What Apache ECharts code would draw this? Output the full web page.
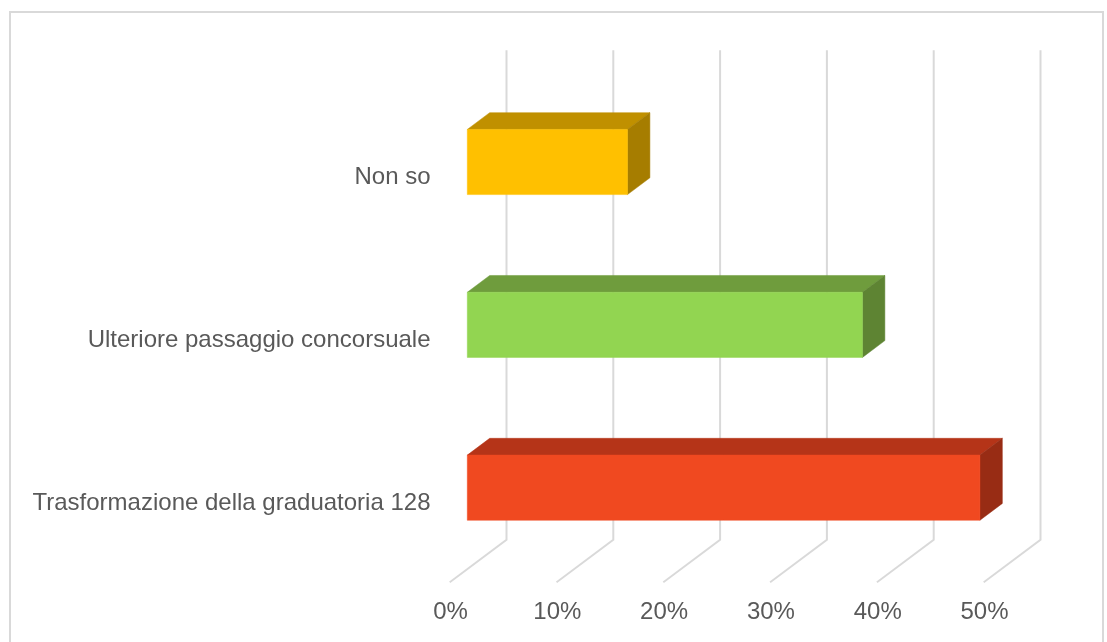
<!DOCTYPE html>
<html>
<head>
<meta charset="utf-8">
<style>
  html, body { margin: 0; padding: 0; background: #fff; }
  #chart { width: 1107px; height: 642px; }
</style>
<script src="https://cdn.jsdelivr.net/npm/echarts@6/dist/echarts.min.js"></script>
</head>
<body>
<div id="chart"></div>
<script>
// Answers, listed bottom to top as the category axis runs
const categories = ['Trasformazione della graduatoria 128', 'Ulteriore passaggio concorsuale', 'Non so'];
const percentages = [48, 37, 15];
const ticks = [0, 10, 20, 30, 40, 50];

// Front, top and side shades of each box
const faceColors = [
  ['#F04920', '#B53418', '#982C14'],
  ['#92D551', '#6F9C3D', '#5E8433'],
  ['#FFC000', '#C09000', '#A67D00']
];

// Oblique projection: how far the back wall sits from the front plane
const wallDx = 56;
const wallDy = -42;
// Boxes start at this fraction of the depth and occupy this much of it
const boxStart = 0.3;
const boxDepth = 0.4;
const boxBand = 0.4;

function renderGridLine(params, api) {
  const x = api.coord([api.value(0), 0])[0];
  const rect = params.coordSys;
  const floor = rect.y + rect.height;
  return {
    type: 'polyline',
    shape: { points: [[x, floor], [x + wallDx, floor + wallDy], [x + wallDx, rect.y + wallDy]] },
    style: { fill: 'none', stroke: '#D9D9D9', lineWidth: 2, lineJoin: 'miter', lineCap: 'square' },
    silent: true
  };
}

function renderBox(params, api) {
  const idx = api.value(2);
  const end = api.coord([api.value(0), api.value(1)]);
  const start = api.coord([0, api.value(1)]);
  const h = api.size([0, 1])[1] * boxBand;
  const ox = wallDx * boxStart, oy = wallDy * boxStart;
  const dx = wallDx * boxDepth, dy = wallDy * boxDepth;
  const l = start[0] + ox, r = end[0] + ox;
  const t = end[1] + oy - h / 2, b = end[1] + oy + h / 2;
  const [front, top, side] = faceColors[idx];
  const face = (points, fill) => ({
    type: 'polygon',
    shape: { points },
    style: { fill, stroke: fill, lineWidth: 0.5 },
    silent: true
  });
  return {
    type: 'group',
    children: [
      face([[l, t], [l + dx, t + dy], [r + dx, t + dy], [r, t]], top),
      face([[r, t], [r + dx, t + dy], [r + dx, b + dy], [r, b]], side),
      face([[l, t], [r, t], [r, b], [l, b]], front)
    ]
  };
}

const textStyle = {
  color: '#595959',
  fontFamily: '"Liberation Sans", Arial, sans-serif',
  fontSize: 24
};

const chart = echarts.init(document.getElementById('chart'), null, { renderer: 'canvas' });
chart.setOption({
  animation: false,
  backgroundColor: '#fff',
  graphic: [{
    type: 'rect',
    shape: { x: 10, y: 12, width: 1093, height: 640 },
    style: { fill: 'none', stroke: '#D9D9D9', lineWidth: 2 },
    silent: true,
    z: 0
  }],
  grid: { left: 450.5, top: 93.2, width: 534, height: 488.5, containLabel: false },
  xAxis: {
    type: 'value',
    min: 0,
    max: 50,
    interval: 10,
    axisLine: { show: false },
    axisTick: { show: false },
    splitLine: { show: false },
    axisLabel: {
      ...textStyle,
      margin: 19,
      formatter: v => v + '%',
      customValues: ticks
    }
  },
  yAxis: {
    type: 'category',
    data: categories,
    axisLine: { show: false },
    axisTick: { show: false },
    splitLine: { show: false },
    // Labels sit a little below each band's centre
    axisLabel: { ...textStyle, margin: 20, interval: 0, verticalAlign: 'top', lineHeight: 6 }
  },
  series: [
    {
      type: 'custom',
      coordinateSystem: 'cartesian2d',
      clip: false,
      z: 1,
      renderItem: renderGridLine,
      encode: { x: 0, y: 1 },
      data: ticks.map(t => [t, 0])
    },
    {
      type: 'custom',
      coordinateSystem: 'cartesian2d',
      clip: false,
      z: 2,
      renderItem: renderBox,
      encode: { x: 0, y: 1 },
      data: percentages.map((v, i) => [v, i, i])
    }
  ]
});
</script>
</body>
</html>
